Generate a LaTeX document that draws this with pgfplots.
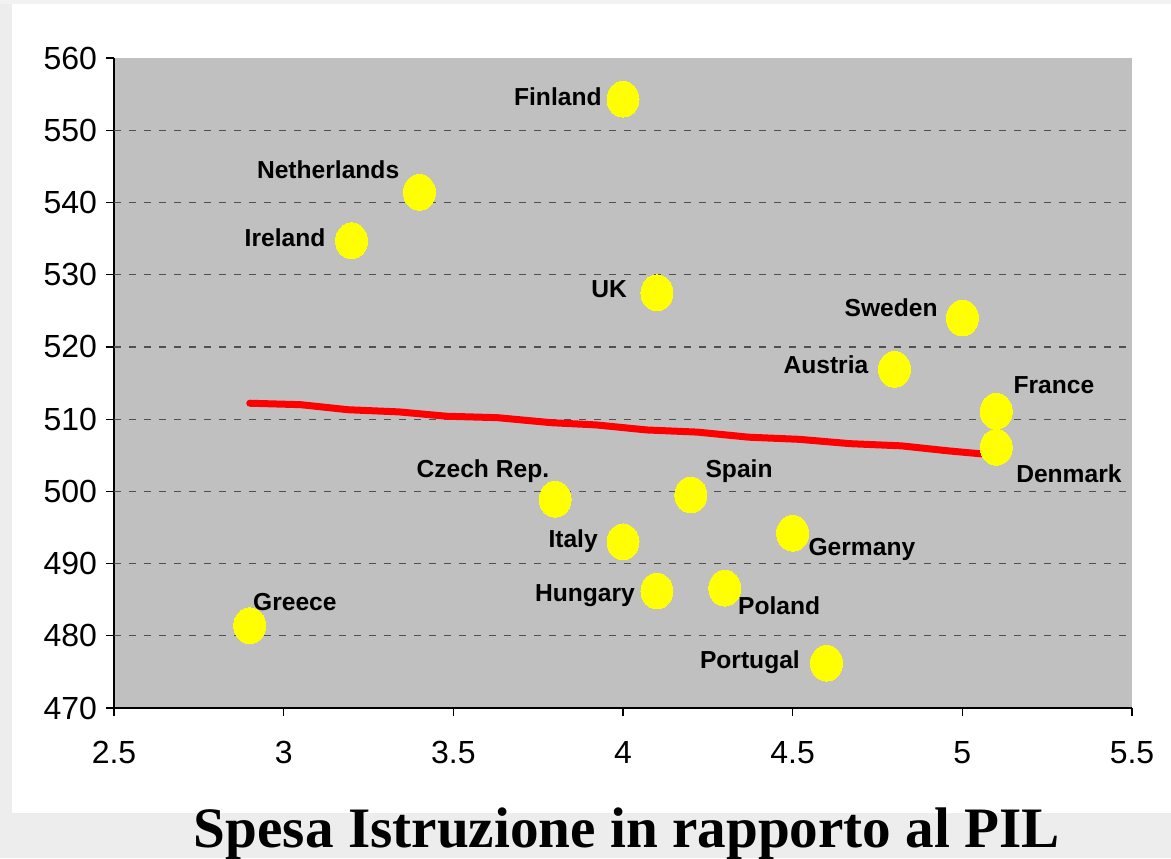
\documentclass[border=0pt]{standalone}
\usepackage{pgfplots}
\pgfplotsset{compat=1.18}
\usepackage{fontspec}
\setmainfont{Liberation Sans}
\newfontfamily\titlefont{Liberation Serif}
\definecolor{plotgray}{HTML}{C0C0C0}
\definecolor{outergray}{HTML}{EDEDED}
\definecolor{topgray}{HTML}{F2F2F2}
\definecolor{gridgray}{HTML}{505050}
\definecolor{dotyellow}{HTML}{FFFF00}
\begin{document}
\begin{tikzpicture}[x=1pt,y=1pt]
\useasboundingbox (0,0) rectangle (585.5,429);
\fill[outergray] (0,0) rectangle (585.5,429);
\fill[topgray] (0,427) rectangle (585.5,429);
\fill[white] (6,22.5) rectangle (585.5,427);
\begin{axis}[
  at={(57pt,75pt)}, anchor=south west,
  scale only axis, width=509pt, height=325pt,
  xmin=2.5, xmax=5.5, ymin=470, ymax=560,
  xtick={2.5,3,...,5.5}, ytick={470,480,...,560},
  xticklabels={2.5,3,3.5,4,4.5,5,5.5},
  axis x line*=bottom, axis y line*=left,
  axis line style={black, line width=0.6pt, -},
  tick style={black, line width=0.6pt},
  tick align=outside, major tick length=4pt,
  axis background/.style={fill=plotgray},
  ticklabel style={font=\fontsize{16}{19}\selectfont},
  /pgf/number format/assume math mode=true,
  yticklabel style={xshift=-1pt},
  xticklabel style={yshift=-9pt},
  clip=false,
]
\pgfplotsinvokeforeach{480,490,...,550}{
  \draw[gridgray, line width=0.6pt, dash pattern=on 3.5pt off 4pt] (axis cs:2.5,#1) -- (axis cs:5.5,#1);
}
\addplot[red, line width=3.5pt, line cap=round, line join=round] coordinates {
 (2.90,512.2) (3.05,512.0) (3.19,511.3) (3.34,511.0) (3.48,510.4) (3.63,510.2)
 (3.79,509.5) (3.92,509.2) (4.07,508.5) (4.22,508.2) (4.37,507.5) (4.52,507.2)
 (4.67,506.6) (4.82,506.3) (4.96,505.6) (5.10,505.0)
};
\addplot[only marks, mark=*, mark size=8pt, mark options={fill=dotyellow, draw=dotyellow, line width=0pt, yscale=1.12}] coordinates {
 (4.0,554.3) (3.4,541.4) (3.2,534.7) (4.1,527.5) (5.0,524.0) (4.8,516.9)
 (5.1,511.1) (5.1,506.1) (3.8,498.9) (4.2,499.5) (4.0,493.0) (4.5,494.2)
 (4.1,486.2) (4.3,486.6) (4.6,476.2) (2.9,481.4)
};
\begin{scope}[every node/.style={font=\bfseries\fontsize{12.3}{14}\selectfont, inner sep=0pt}]
\node at (axis cs:3.808,554.6) {Finland};
\node at (axis cs:3.131,544.5) {Netherlands};
\node at (axis cs:3.004,535.1) {Ireland};
\node at (axis cs:3.959,528.0) {UK};
\node at (axis cs:4.790,525.4) {Sweden};
\node at (axis cs:4.598,517.6) {Austria};
\node at (axis cs:5.270,514.7) {France};
\node at (axis cs:5.314,502.5) {Denmark};
\node at (axis cs:3.587,502.8) {Czech Rep.};
\node at (axis cs:4.342,502.8) {Spain};
\node at (axis cs:3.853,493.1) {Italy};
\node at (axis cs:4.704,491.9) {Germany};
\node at (axis cs:3.888,485.6) {Hungary};
\node at (axis cs:4.460,484.1) {Poland};
\node at (axis cs:4.374,476.4) {Portugal};
\node at (axis cs:3.033,484.7) {Greece};
\end{scope}
\end{axis}
\node[anchor=base, inner sep=0pt, font=\titlefont\bfseries\fontsize{28.6}{32}\selectfont] at (313.5,5.5) {Spesa Istruzione in rapporto al PIL};
\end{tikzpicture}
\end{document}
